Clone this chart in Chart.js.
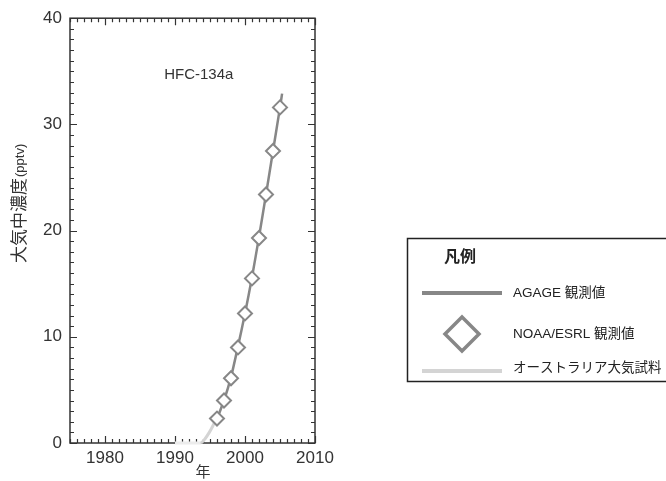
<!DOCTYPE html>
<html>
<head>
<meta charset="utf-8">
<script src="https://cdn.jsdelivr.net/npm/chart.js@4"></script>
<style>
  html, body { margin: 0; padding: 0; background: #fff; }
  canvas { display: block; }
</style>
</head>
<body>
<canvas id="chart" width="666" height="481"></canvas>
<script>
/* ── Data ──────────────────────────────────────────────── */
const X_TICKS = [1980, 1990, 2000, 2010];
const Y_TICKS = [0, 10, 20, 30, 40];

const NOAA_YEARS = [1996, 1997, 1998, 1999, 2000, 2001, 2002, 2003, 2004, 2005];
const NOAA_VALUES = [2.3, 4.0, 6.1, 9.0, 12.2, 15.5, 19.3, 23.4, 27.5, 31.6];

const AGAGE_YEARS = [1995.9, 1997, 1998, 1999, 2000, 2001, 2002, 2003, 2004, 2005, 2005.3];
const AGAGE_VALUES = [2.1, 4.0, 6.2, 9.1, 12.2, 15.6, 19.4, 23.4, 27.5, 31.6, 32.9];

const ARCHIVE_YEARS = [1990, 1991, 1992, 1993, 1993.7, 1994.3, 1994.9, 1995.4, 1995.9];
const ARCHIVE_VALUES = [0, 0, 0, 0, 0, 0.4, 1.0, 1.6, 2.3];

const SERIES_LABELS = ['AGAGE 観測値', 'NOAA/ESRL 観測値', 'オーストラリア大気試料'];

const FONT = '"Liberation Sans", "Noto Sans CJK JP", sans-serif';
const INK = '#333';
const DARK = '#878787';
const LIGHT = '#d4d4d4';
const FAINT = '#ececec';

const pts = (xs, ys) => xs.map((x, i) => ({ x, y: ys[i] }));

/* ── Frame with inward ticks on all four sides ─────────── */
const framePlugin = {
  id: 'frame',
  beforeDatasetsDraw(chart) {
    const { ctx, chartArea: a, scales: { x, y } } = chart;
    ctx.save();
    ctx.strokeStyle = INK;
    ctx.lineWidth = 1.5;
    ctx.strokeRect(a.left, a.top, a.right - a.left, a.bottom - a.top);
    ctx.lineWidth = 1.2;
    ctx.beginPath();
    for (let v = Math.ceil(x.min); v <= x.max; v++) {
      const px = Math.round(x.getPixelForValue(v)) + 0.5;
      const len = v % 10 === 0 ? 7 : 4;
      ctx.moveTo(px, a.bottom); ctx.lineTo(px, a.bottom - len);
      ctx.moveTo(px, a.top); ctx.lineTo(px, a.top + len);
    }
    for (let v = y.min; v <= y.max; v++) {
      const py = Math.round(y.getPixelForValue(v)) + 0.5;
      const len = v % 10 === 0 ? 7 : 4;
      ctx.moveTo(a.left, py); ctx.lineTo(a.left + len, py);
      ctx.moveTo(a.right, py); ctx.lineTo(a.right - len, py);
    }
    ctx.stroke();
    ctx.restore();
  },
  afterDraw(chart) {
    const { ctx, scales: { x, y } } = chart;
    ctx.save();
    ctx.fillStyle = INK;

    // gas name
    ctx.font = '15px ' + FONT;
    ctx.textAlign = 'center';
    ctx.textBaseline = 'middle';
    ctx.fillText('HFC-134a', x.getPixelForValue(1993.4), y.getPixelForValue(34.7));

    // x title
    ctx.font = '15px ' + FONT;
    ctx.fillText('年', 203, 473);

    // y title (rotated)
    ctx.translate(20, 263);
    ctx.rotate(-Math.PI / 2);
    ctx.textAlign = 'left';
    ctx.font = '17px ' + FONT;
    ctx.fillText('大気中濃度', 0, 0);
    const w = ctx.measureText('大気中濃度').width;
    ctx.font = '13px ' + FONT;
    ctx.fillText('(pptv)', w + 1, 0);
    ctx.restore();

    // legend box
    ctx.save();
    ctx.strokeStyle = '#222';
    ctx.lineWidth = 1.5;
    ctx.strokeRect(407.5, 238.5, 300, 143);
    ctx.fillStyle = '#222';
    ctx.textBaseline = 'middle';
    ctx.font = 'bold 16px ' + FONT;
    ctx.fillText('凡例', 444, 258);

    ctx.font = '13.5px ' + FONT;
    const rows = [293, 334, 368];
    ctx.lineWidth = 4;
    ctx.strokeStyle = DARK;
    ctx.beginPath(); ctx.moveTo(422, rows[0]); ctx.lineTo(502, rows[0]); ctx.stroke();
    ctx.lineWidth = 3.5;
    ctx.beginPath();
    ctx.moveTo(462, rows[1] - 17); ctx.lineTo(479, rows[1]);
    ctx.lineTo(462, rows[1] + 17); ctx.lineTo(445, rows[1]); ctx.closePath();
    ctx.stroke();
    ctx.lineWidth = 4;
    ctx.strokeStyle = LIGHT;
    ctx.beginPath(); ctx.moveTo(422, rows[2] + 3); ctx.lineTo(502, rows[2] + 3); ctx.stroke();

    SERIES_LABELS.forEach((t, i) => ctx.fillText(t, 513, rows[i]));
    ctx.restore();
  },
};

/* ── Chart ─────────────────────────────────────────────── */
new Chart(document.getElementById('chart'), {
  type: 'scatter',
  data: {
    datasets: [
      {
        label: SERIES_LABELS[1],
        data: pts(NOAA_YEARS, NOAA_VALUES),
        showLine: false,
        pointStyle: 'rectRot',
        pointRadius: 7,
        pointBorderWidth: 2,
        pointBorderColor: DARK,
        pointBackgroundColor: '#fff',
        order: 0,
      },
      {
        label: SERIES_LABELS[0],
        data: pts(AGAGE_YEARS, AGAGE_VALUES),
        showLine: true,
        borderColor: DARK,
        borderWidth: 2.5,
        pointRadius: 0,
        tension: 0.2,
        order: 1,
      },
      {
        label: SERIES_LABELS[2],
        data: pts(ARCHIVE_YEARS, ARCHIVE_VALUES),
        showLine: true,
        borderColor: LIGHT,
        borderWidth: 3,
        pointRadius: 0,
        tension: 0.3,
        clip: 4,
        segment: { borderColor: c => (c.p1.parsed.y === 0 ? FAINT : LIGHT) },
        order: 2,
      },
    ],
  },
  options: {
    responsive: false,
    animation: false,
    events: [],
    layout: { padding: { left: 0, top: 15, right: 351, bottom: 0 } },
    plugins: { legend: { display: false }, tooltip: { enabled: false } },
    scales: {
      x: {
        type: 'linear',
        min: 1975,
        max: 2010,
        afterBuildTicks: s => { s.ticks = X_TICKS.map(value => ({ value })); },
        afterFit: s => { s.height = 38; },
        grid: { display: false, drawTicks: false, tickLength: 0 },
        border: { display: false },
        ticks: { color: INK, font: { family: FONT, size: 17 }, padding: 5, callback: v => String(v) },
      },
      y: {
        min: 0,
        max: 40,
        afterBuildTicks: s => { s.ticks = Y_TICKS.map(value => ({ value })); },
        afterFit: s => { s.width = 70; },
        grid: { display: false, drawTicks: false, tickLength: 0 },
        border: { display: false },
        ticks: { color: INK, font: { family: FONT, size: 17 }, padding: 8 },
      },
    },
  },
  plugins: [framePlugin],
});
</script>
</body>
</html>
